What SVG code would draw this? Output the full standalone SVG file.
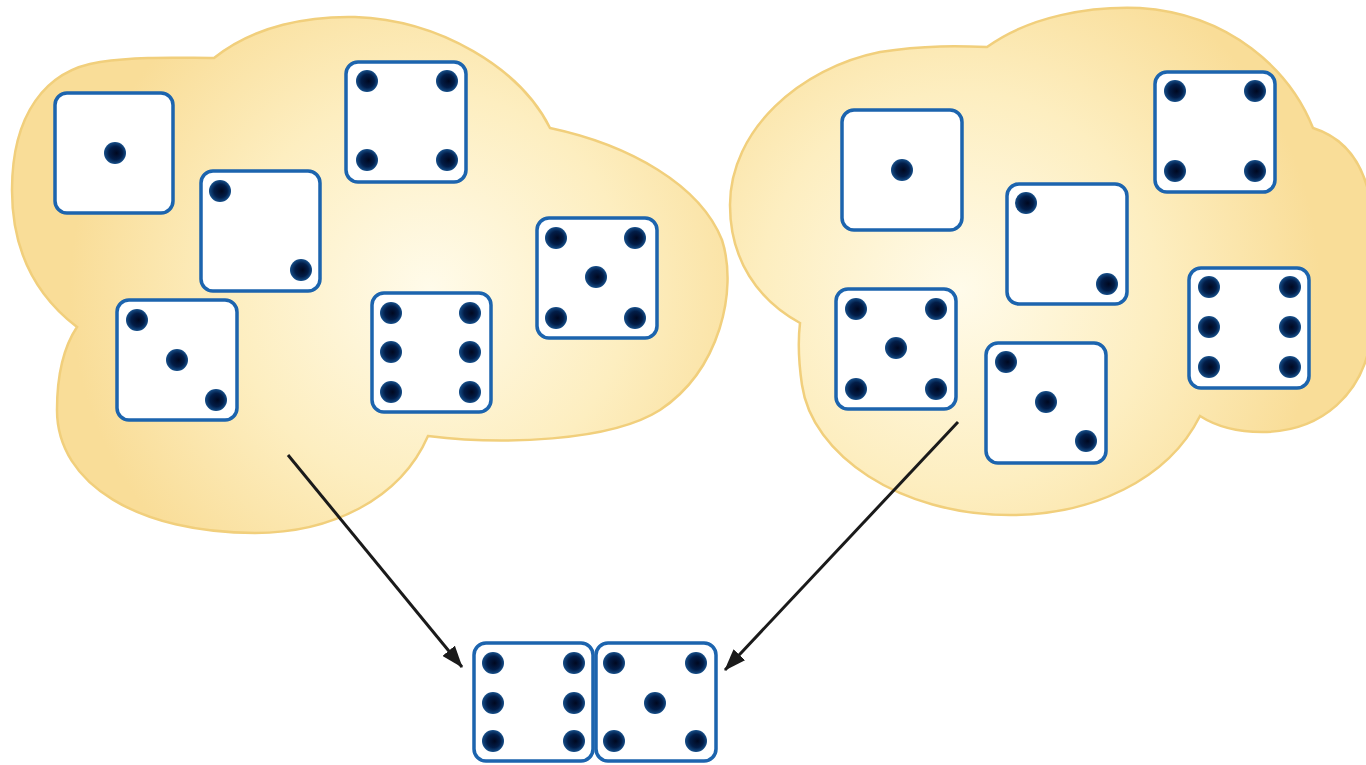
<svg xmlns="http://www.w3.org/2000/svg" width="1366" height="765" viewBox="0 0 1366 765">
  <defs>
    <radialGradient id="cloudL" gradientUnits="userSpaceOnUse" cx="430" cy="290" r="360">
      <stop offset="0" stop-color="#fffbea"/>
      <stop offset="0.55" stop-color="#fdeec0"/>
      <stop offset="1" stop-color="#f9dd98"/>
    </radialGradient>
    <radialGradient id="cloudR" gradientUnits="userSpaceOnUse" cx="960" cy="290" r="360">
      <stop offset="0" stop-color="#fffbea"/>
      <stop offset="0.55" stop-color="#fdeec0"/>
      <stop offset="1" stop-color="#f9dd98"/>
    </radialGradient>
    <radialGradient id="pipFill" cx="0.5" cy="0.5" r="0.5" fx="0.58" fy="0.5">
      <stop offset="0" stop-color="#000820"/>
      <stop offset="0.6" stop-color="#021d48"/>
      <stop offset="1" stop-color="#164f8a"/>
    </radialGradient>
    <marker id="arrow" viewBox="0 0 22 16" refX="21" refY="8" markerWidth="22" markerHeight="16" markerUnits="userSpaceOnUse" orient="auto">
      <path d="M0,0 L22,8 L0,16 Z" fill="#1a1a1a"/>
    </marker>
  </defs>
  <style>
    .cloud { stroke: #f1cf7c; stroke-width: 2.5; }
    .face { fill: #ffffff; stroke: #1c64ae; stroke-width: 3.5; }
    .pip { fill: url(#pipFill); }
    .link { stroke: #1a1a1a; stroke-width: 3; fill: none; marker-end: url(#arrow); }
  </style>

  <rect width="1366" height="765" fill="#ffffff"/>

  <!-- left pool -->
  <g id="pool-left">
    <path class="cloud" fill="url(#cloudL)" d="M214,58 C255,25 310,16 355,17 C440,20 520,68 550,128 C630,145 700,185 722,240 C738,290 720,370 660,410 C610,442 500,445 428,436 C400,500 330,533 255,533 C140,533 57,485 57,410 C57,370 65,345 77,327 C35,295 12,250 12,190 C12,115 45,70 100,62 C140,56 180,58 214,58 Z"/>
  </g>

  <!-- right pool -->
  <g id="pool-right">
    <path class="cloud" fill="url(#cloudR)" d="M730,205 C730,130 800,68 880,52 C925,45 960,46 987,47 C1030,16 1090,6 1140,8 C1230,14 1290,70 1313,128 C1345,138 1366,165 1372,210 L1372,330 C1366,395 1320,432 1262,432 C1232,432 1214,425 1200,416 C1168,480 1092,515 1010,515 C900,515 812,455 802,385 C798,358 798,340 800,323 C758,300 730,260 730,205 Z"/>
  </g>

  <!-- dice in left pool -->
  <g id="die-l1" transform="translate(55,93)">
    <rect class="face" width="118" height="120" rx="12"/>
    <circle class="pip" cx="60" cy="60" r="11"/>
  </g>
  <g id="die-l2" transform="translate(201,171)">
    <rect class="face" width="119" height="120" rx="12"/>
    <circle class="pip" cx="19" cy="20" r="11"/>
    <circle class="pip" cx="100" cy="99" r="11"/>
  </g>
  <g id="die-l4" transform="translate(346,62)">
    <rect class="face" width="120" height="120" rx="12"/>
    <circle class="pip" cx="21" cy="19" r="11"/>
    <circle class="pip" cx="101" cy="19" r="11"/>
    <circle class="pip" cx="21" cy="98" r="11"/>
    <circle class="pip" cx="101" cy="98" r="11"/>
  </g>
  <g id="die-l5" transform="translate(537,218)">
    <rect class="face" width="120" height="120" rx="12"/>
    <circle class="pip" cx="19" cy="20" r="11"/>
    <circle class="pip" cx="98" cy="20" r="11"/>
    <circle class="pip" cx="59" cy="59" r="11"/>
    <circle class="pip" cx="19" cy="100" r="11"/>
    <circle class="pip" cx="98" cy="100" r="11"/>
  </g>
  <g id="die-l3" transform="translate(117,300)">
    <rect class="face" width="120" height="120" rx="12"/>
    <circle class="pip" cx="20" cy="20" r="11"/>
    <circle class="pip" cx="60" cy="60" r="11"/>
    <circle class="pip" cx="99" cy="100" r="11"/>
  </g>
  <g id="die-l6" transform="translate(372,293)">
    <rect class="face" width="119" height="119" rx="12"/>
    <circle class="pip" cx="19" cy="20" r="11"/>
    <circle class="pip" cx="98" cy="20" r="11"/>
    <circle class="pip" cx="19" cy="59" r="11"/>
    <circle class="pip" cx="98" cy="59" r="11"/>
    <circle class="pip" cx="19" cy="99" r="11"/>
    <circle class="pip" cx="98" cy="99" r="11"/>
  </g>

  <!-- dice in right pool -->
  <g id="die-r1" transform="translate(842,110)">
    <rect class="face" width="120" height="120" rx="12"/>
    <circle class="pip" cx="60" cy="60" r="11"/>
  </g>
  <g id="die-r2" transform="translate(1007,184)">
    <rect class="face" width="120" height="120" rx="12"/>
    <circle class="pip" cx="19" cy="19" r="11"/>
    <circle class="pip" cx="100" cy="100" r="11"/>
  </g>
  <g id="die-r4" transform="translate(1155,72)">
    <rect class="face" width="120" height="120" rx="12"/>
    <circle class="pip" cx="20" cy="19" r="11"/>
    <circle class="pip" cx="100" cy="19" r="11"/>
    <circle class="pip" cx="20" cy="99" r="11"/>
    <circle class="pip" cx="100" cy="99" r="11"/>
  </g>
  <g id="die-r6" transform="translate(1189,268)">
    <rect class="face" width="120" height="120" rx="12"/>
    <circle class="pip" cx="20" cy="19" r="11"/>
    <circle class="pip" cx="101" cy="19" r="11"/>
    <circle class="pip" cx="20" cy="59" r="11"/>
    <circle class="pip" cx="101" cy="59" r="11"/>
    <circle class="pip" cx="20" cy="99" r="11"/>
    <circle class="pip" cx="101" cy="99" r="11"/>
  </g>
  <g id="die-r5" transform="translate(836,289)">
    <rect class="face" width="120" height="120" rx="12"/>
    <circle class="pip" cx="20" cy="20" r="11"/>
    <circle class="pip" cx="100" cy="20" r="11"/>
    <circle class="pip" cx="60" cy="59" r="11"/>
    <circle class="pip" cx="20" cy="100" r="11"/>
    <circle class="pip" cx="100" cy="100" r="11"/>
  </g>
  <g id="die-r3" transform="translate(986,343)">
    <rect class="face" width="120" height="120" rx="12"/>
    <circle class="pip" cx="20" cy="19" r="11"/>
    <circle class="pip" cx="60" cy="59" r="11"/>
    <circle class="pip" cx="100" cy="98" r="11"/>
  </g>

  <!-- the drawn pair -->
  <g id="pair-six" transform="translate(474,643)">
    <rect class="face" width="119" height="118" rx="12"/>
    <circle class="pip" cx="19" cy="20" r="11"/>
    <circle class="pip" cx="100" cy="20" r="11"/>
    <circle class="pip" cx="19" cy="60" r="11"/>
    <circle class="pip" cx="100" cy="60" r="11"/>
    <circle class="pip" cx="19" cy="98" r="11"/>
    <circle class="pip" cx="100" cy="98" r="11"/>
  </g>
  <g id="pair-five" transform="translate(596,643)">
    <rect class="face" width="120" height="118" rx="12"/>
    <circle class="pip" cx="18" cy="20" r="11"/>
    <circle class="pip" cx="100" cy="20" r="11"/>
    <circle class="pip" cx="59" cy="60" r="11"/>
    <circle class="pip" cx="18" cy="98" r="11"/>
    <circle class="pip" cx="100" cy="98" r="11"/>
  </g>

  <!-- connectors -->
  <g id="connectors">
    <line class="link" x1="288" y1="455" x2="462" y2="667"/>
    <line class="link" x1="958" y1="422" x2="725" y2="670"/>
  </g>
</svg>
